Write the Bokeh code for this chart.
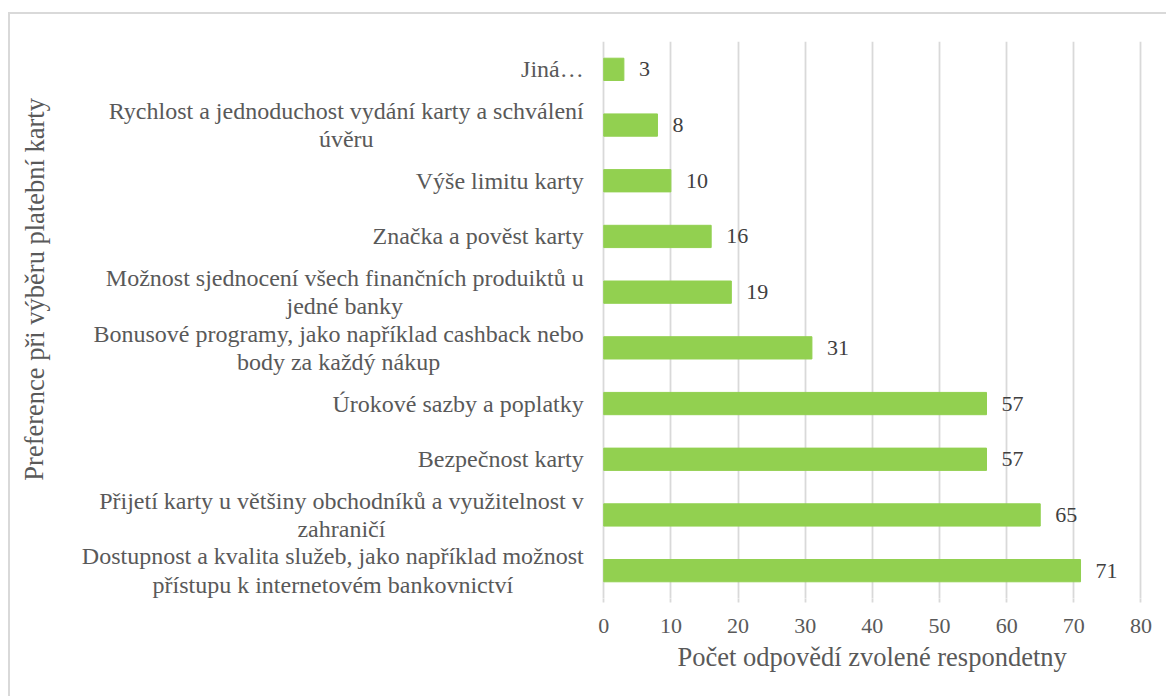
from bokeh.plotting import figure
from bokeh.models import Range1d, FactorRange, FixedTicker, Label, Title
from bokeh.core.properties import value
from bokeh.embed import file_html
from bokeh.resources import INLINE

# ---- data (top to bottom as in the chart) ----
categories = [
    "Jiná…",
    "Rychlost a jednoduchost vydání karty a schválení\núvěru",
    "Výše limitu karty",
    "Značka a pověst karty",
    "Možnost sjednocení všech finančních produiktů u\njedné banky",
    "Bonusové programy, jako například cashback nebo\nbody za každý nákup",
    "Úrokové sazby a poplatky",
    "Bezpečnost karty",
    "Přijetí karty u většiny obchodníků a využitelnost v\nzahraničí",
    "Dostupnost a kvalita služeb, jako například možnost\npřístupu k internetovém bankovnictví",
]
counts = [3, 8, 10, 16, 19, 31, 57, 57, 65, 71]
x_ticks = [0, 10, 20, 30, 40, 50, 60, 70, 80]
x_title = "Počet odpovědí zvolené respondetny"
y_title = "Preference při výběru platební karty"

FONT = "Liberation Serif"
GREY = "#595959"
DARK = "#404040"
GRID = "#D9D9D9"
GREEN = "#92D050"

factors = list(reversed(categories))

p = figure(
    width=1158, height=684,
    x_range=Range1d(-88.34, 84.1),
    y_range=FactorRange(factors=factors),
    output_backend="svg", toolbar_location=None,
    min_border_left=0, min_border_right=0,
    min_border_top=27, min_border_bottom=100,
)
p.styles = {"border-top": "2px solid #D9D9D9", "border-left": "2px solid #D9D9D9",
            "margin-top": "12px", "margin-left": "8px"}
p.outline_line_color = None
p.background_fill_color = "white"
p.border_fill_color = "white"

p.yaxis.visible = False
p.ygrid.grid_line_color = None

p.xaxis.ticker = FixedTicker(ticks=x_ticks)
p.xgrid.ticker = FixedTicker(ticks=x_ticks)
p.xgrid.grid_line_color = GRID
p.xgrid.grid_line_width = 1.8
p.xaxis.axis_line_color = None
p.xaxis.minor_tick_line_color = None
p.xaxis.major_tick_in = 0
p.xaxis.major_tick_out = 4
p.xaxis.major_tick_line_color = GRID
p.xaxis.major_tick_line_width = 1.8
p.xaxis.major_label_standoff = 16
p.xaxis.major_label_text_font = FONT
p.xaxis.major_label_text_font_size = "22px"
p.xaxis.major_label_text_color = GREY

# bars
p.hbar(y=categories, right=counts, height=0.4, fill_color=GREEN, line_color=GREEN)

# value labels
p.text(x=counts, y=categories, text=[str(c) for c in counts],
       x_offset=15, text_baseline="middle", text_align="left",
       text_font=value(FONT), text_font_size="22px", text_color=DARK)

# category labels (right aligned block, centered lines)
p.text(x=[0] * len(categories), y=categories, text=categories,
       x_offset=-20, anchor="center_right", text_align="center",
       text_baseline="middle", text_line_height=1.1,
       text_font=value(FONT), text_font_size="24px", text_color=GREY)

# y axis title
p.add_layout(Label(x=24, x_units="screen", y=5.55, y_units="data", text=y_title,
                   angle=1.5707963, text_align="center", text_baseline="middle",
                   text_font=FONT, text_font_size="26.5px", text_color=GREY))

# x axis title
p.add_layout(Title(text=x_title, align="left", offset=667,
                   text_font=FONT, text_font_size="26.5px", text_color=GREY,
                   text_font_style="normal", standoff=8), "below")

open("out.html", "w").write(file_html(p, INLINE))
